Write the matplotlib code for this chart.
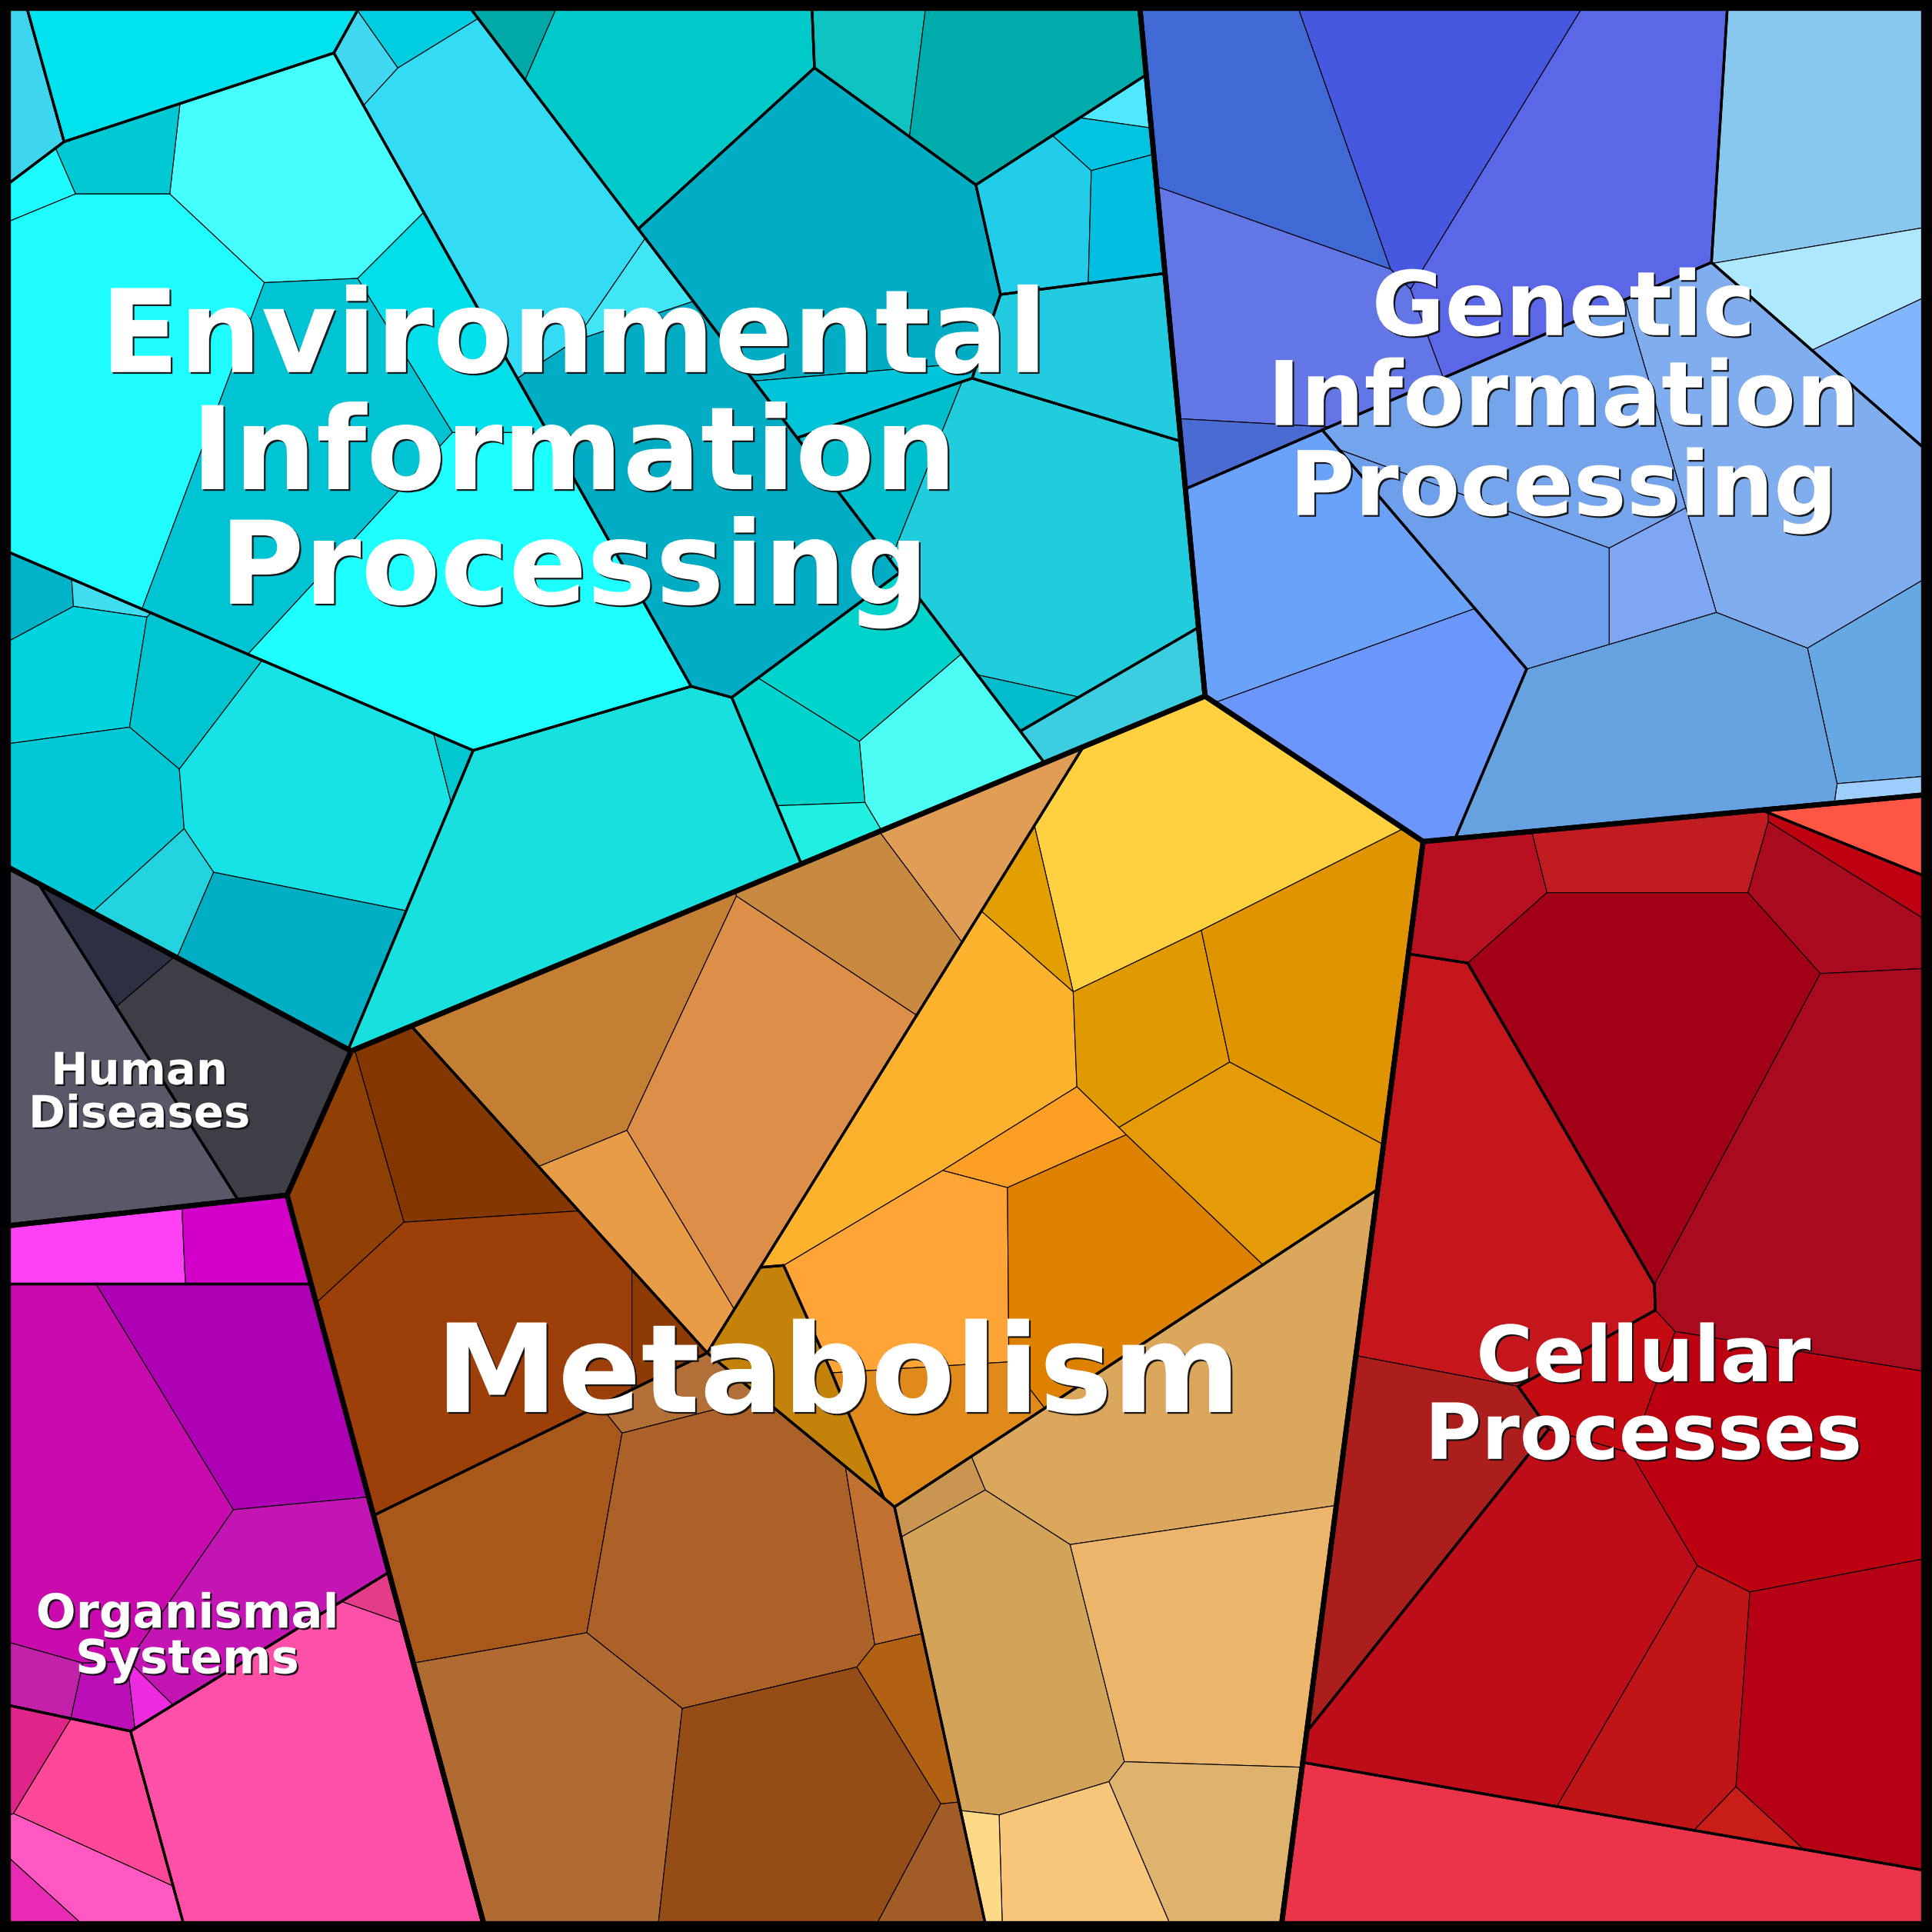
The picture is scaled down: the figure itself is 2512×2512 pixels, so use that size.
import numpy as np
import matplotlib
matplotlib.use('Agg')
import matplotlib.pyplot as plt
from matplotlib.patches import Polygon
from matplotlib.collections import LineCollection
import matplotlib.patheffects as pe

# top level: KEGG categories as power-diagram sites and weights
cat_names = ['Environmental\nInformation\nProcessing', 'Genetic\nInformation\nProcessing',
             'Metabolism', 'Cellular\nProcesses', 'Human\nDiseases', 'Organismal\nSystems']
top_x = [412.0, 1212.5, 700.0, 1291.3, 167.5, 208.0]
top_y = [407.0, 331.2, 1100.0, 1177.3, 863.3, 1232.8]
top_w = [181811, -53857, 200000, 81995, -19321, 34700]

# sub-groups: path -> (site x, site y, weight)
env_groups = {
    'L': (300, 400, 0), 'R': (666, 121.6, -67384),
    'L/0': (63.4, 103.1, 90840), 'L/1': (160, 76.25, 103737), 'L/2': (250, 350, 185000),
    'L/3': (449.9, 237.25, 160063), 'L/4': (155.1, 572.25, 153691), 'L/6': (656.4, 515.4, 37695),
    'L/7': (337.75, 648.5, 103642),
    'R/1a': (551, 89, -2430), 'R/1b': (789.5, 79.1, 1407), 'R/2': (680, 230, 15300),
    'R/3a': (860.8, 189.4, 2641), 'R/3b': (874.5, 295.8, 4928), 'R/4': (793.6, 563.7, 63407),
    'R/5': (874.6, 702.7, 75432),
}
gen_groups = {
    'a': (1142.75, 181.25, 55798), 'b': (1536.95, 205.85, 16091), 'c': (1280, 500, 88400),
    'c/X': (1085.25, 543.75, 97729.7), 'c/Y': (1230, 420, 89300), 'c/9': (1293.19, 631.55, 84870.8),
    'c/10': (1394.93, 371.96, 72459.4), 'c/11': (1519.28, 582.23, 49432),
    'c/15': (1526.18, 664.88, 47811.8),
}
met_groups = {'o': (560, 900, 23600), 'y': (805, 1052, 39677), 'd': (428, 1019.5, 11678),
              'b': (578.2, 1327.8, 37025), 't': (935.2, 1250.1, 48694)}
cel_groups = {'a': (1432, 798, -144276), 'm': (1330, 1050, 0), 'd': (1260.4, 1450.8, -177370)}
hum_groups = {'a': (60, 880, 0), 'b': (186, 800.5, 3560)}
org_groups = {'a': (150, 1100, 40900), 'b': (150, 1200, 62500), 'c': (214, 1304, 40404),
              'd': (122.6, 1329.1, 24572)}

# leaves: (site x, site y, size in 1000 px^2, colour, group path, outline tag, fixed weight or None)
N = None
env = [
    (22, 70, 4.5, '#3dd6ee', 'L/0', 'L/0', N), (140, 45, 18.2, '#00e2ed', 'L/1', 'L/1', N),
    (298, 48, 1.6, '#40d8f0', 'L/3', 'L/3', N), (335, 22, 2.2, '#00cde0', 'L/3', 'L/3', N),
    (240, 150, 25.9, '#45ffff', 'L/2', 'L/2', N), (90, 133, 5.1, '#00c9d4', 'L/2', 'L/2', N),
    (28, 160, 1.8, '#1cfcff', 'L/2', 'L/2', N), (90, 310, 51.0, '#1efcff', 'L/2', 'L/2', N),
    (250, 370, 41.8, '#00c3d4', 'L/2', 'L/2', N), (380, 290, 12.3, '#00dfea', 'L/2', 'L/2', N),
    (380, 490, 54.0, '#1effff', 'L/2', 'L/2', N), (420, 160, 27.0, '#33dcf4', 'L/3', 'L/3', N),
    (570, 390, 42.0, '#00acc4', 'L/3', 'L/3', N), (515, 225, 2.5, '#40e6f6', 'L/3', 'L/3', N),
    (25, 485, 2.5, '#00b3c9', 'L/4', 'L/4', N), (70, 482, 0.8, '#40dcf0', 'L/4', 'L/4', N),
    (60, 550, 10.0, '#00d3de', 'L/4', 'L/4', N), (155, 565, 7.5, '#00c4d0', 'L/4', 'L/4', N),
    (75, 660, 16.0, '#00c8d6', 'L/4', 'L/4', N), (260, 645, 30.6, '#17e2e5', 'L/4', 'L/4', N),
    (370, 617, 0.8, '#00c8d0', 'L/4', 'L/4', N), (137, 728, 5.0, '#22d3df', 'L/4', 'L/4', N),
    (235, 770, 15.3, '#00aec4', 'L/4', 'L/4', N), (470, 690, 53.6, '#18e0df', 'L/7', 'L/7', N),
    (710, 530, 10.4, '#00d3cc', 'L/6', 'L/6', N), (770, 600, 11.0, '#4bfdf2', 'L/6', 'L/6', N),
    (660, 610, 6.5, '#02d4cd', 'L/6', 'L/6', N), (662, 664, 2.5, '#1ff0e2', 'L/6', 'L/6', N),
    (425, 25, 2.0, '#00a8a8', 'R/1a', 'R/1a', N), (540, 75, 25.5, '#00c9c9', 'R/1a', 'R/1a', N),
    (700, 50, 6.5, '#10c3c3', 'R/1b', 'R/1b', N), (820, 65, 19.1, '#00abab', 'R/1b', 'R/1b', N),
    (690, 200, 47.9, '#00adc4', 'R/2', 'R/2', N), (700, 320, 5.2, '#00c4da', 'R/2', 'R/2', N),
    (735, 400, 8.0, '#00bfcc', 'R/4', 'R/4', N), (860, 450, 44.0, '#21ccdc', 'R/4', 'R/4', N),
    (832, 578, 1.5, '#00bccc', 'R/4', 'R/4', N), (905, 565, 8.0, '#3dcde0', 'R/5', 'R/5', N),
    (848, 178, 11.0, '#22cdea', 'R/3a', 'R/3a', N), (910, 80, 1.5, '#50e8fe', 'R/3a', 'R/3a', N),
    (905, 115, 2.8, '#00c4e2', 'R/3a', 'R/3a', N), (922, 180, 6.5, '#00bedf', 'R/3a', 'R/3a', N),
    (875, 280, 15.6, '#23cbe0', 'R/3b', 'R/3b', N),
]
gen = [
    (1012, 93, 26.5, '#4169d6', 'a', 'a', N), (1162, 40, 27.0, '#4758e0', 'a', 'a', N),
    (1290, 118, 46.8, '#5a67e6', 'a', 'a', N), (960, 240, 30.0, '#6276e6', 'a', 'a', N),
    (955, 330, 3.4, '#4a6bd2', 'a', 'a', N),
    (1080, 430, 29.9, '#6aa2fa', 'c/X', 'cX', N), (1131, 571, 24.3, '#6b97fc', 'c/X', 'cX', N),
    (1240, 330, 32.0, '#74a4ec', 'c/Y', 'c', N), (1216.6, 394.2, 15.5, '#6e9fec', 'c/Y', 'c', N),
    (1273.7, 394.2, 6.5, '#7ea6f5', 'c/Y', 'c', N), (1370, 590, 38.5, '#66a2df', 'c/9', 'c', N),
    (1450, 390, 46.6, '#80adee', 'c/10', 'c', N), (1522, 570, 11.3, '#66a8e4', 'c/11', 'c', N),
    (1527, 640, 1.0, '#9ccdfc', 'c/15', 'c', N),
    (1478, 100, 32.0, '#88c8ee', 'b', 'b', N), (1500, 230, 9.8, '#aee8fe', 'b', 'b', N),
    (1531, 296, 5.6, '#82b6fc', 'b', 'b', N),
]
met = [
    (900.0, 700.0, 38.1, '#ffd040', 'y', 'y', 0.0),
    (833.5, 715.5, 4.1, '#e39e00', 'y', 'y', -2449.5),
    (695.4, 872.7, 27.9, '#fdb22e', 'y', 'y', 23552.7),
    (977.74, 861.7, 13.4, '#e19900', 'y', 'y', 2742.3),
    (981.0, 861.0, 27.2, '#e09500', 'y', 'y', 2622.0),
    (979.25, 864.26, 19.5, '#e59a08', 'y', 'y', 2688.7),
    (801.7, 1043.09, 5.2, '#fe9f25', 'y', 'y', 22745.2),
    (800.29, 1048.42, 22.8, '#ffa437', 'y', 'y', 23665.2),
    (804.06, 1048.39, 26.0, '#de8000', 'y', 'y', 23543.3),
    (800.46, 1051.17, 11.2, '#e08a1c', 'y', 'y', 23353.6),
    (713.29, 1087.42, 10.3, '#c5820a', 'y', 'g', 5839.5),
    (960, 1150, 47.9, '#dba75c', 't', 't', N), (755, 1235, 2.0, '#c99550', 't', 't', N),
    (825, 1360, 31.6, '#d4a35a', 't', 't', N), (985, 1320, 34.8, '#ebb66c', 't', 't', N),
    (980, 1480, 16.2, '#ddb36d', 't', 't', N), (875, 1525, 11.8, '#f8c67b', 't', 't', N),
    (806, 1527, 2.0, '#ffda86', 't', 't', N),
    (470, 830, 25.9, '#c47f35', 'o', 'o', N), (624, 902, 38.4, '#dd8f49', 'o', 'o', N),
    (708, 775, 13.0, '#c78a40', 'o', 'o', N), (787, 716, 9.5, '#e09d55', 'o', 'o', N),
    (524, 962, 10.3, '#e99c48', 'o', 'o', N), (390, 935, 15.0, '#843700', 'd', 'd', N),
    (285, 965, 10.3, '#903f05', 'd', 'd', N), (400, 1090, 44.3, '#9c3f08', 'd', 'd', N),
    (530, 1090, 3.0, '#8e3a04', 'd', 'd', N), (425, 1250, 26.7, '#a9581c', 'b', 'b', N),
    (560, 1142, 4.0, '#b26f37', 'b', 'b', N), (595, 1280, 43.2, '#ac6128', 'b', 'b', N),
    (716, 1260, 4.5, '#c27133', 'b', 'b', N), (749, 1403, 5.1, '#b26112', 'b', 'b', N),
    (460, 1450, 39.2, '#b06b32', 'b', 'b', N), (640, 1470, 36.3, '#954c17', 'b', 'b', N),
    (762, 1535, 5.0, '#a15c28', 'b', 'b', N),
]
cel = [
    (1520, 673, 4.0, '#ff5544', 'a', 'a', N), (1220, 735, 8.8, '#b81020', 'm', 'm1', N),
    (1340, 705, 10.6, '#c11d20', 'm', 'm1', N), (1505, 705, 2.7, '#bf0010', 'm', 'm1', N),
    (1480, 745, 10.2, '#a90a1e', 'm', 'm1', N), (1340, 870, 51.3, '#a10016', 'm', 'm1', N),
    (1490, 950, 50.8, '#aa0a1e', 'm', 'm1', N), (1185, 960, 52.8, '#c5171b', 'm', 'm2', N),
    (1130, 1250, 27.5, '#ac1e1b', 'm', 'm2', N), (1285, 1140, 8.0, '#c50b12', 'm', 'm1', N),
    (1450, 1200, 40.0, '#bc0011', 'm', 'm1', N), (1230, 1330, 55.0, '#be0c18', 'm', 'm1', N),
    (1350, 1400, 19.4, '#c11416', 'm', 'm1', N), (1490, 1410, 33.0, '#b50016', 'm', 'm1', N),
    (1429, 1476, 1.9, '#c91e18', 'm', 'm1', N), (1250, 1515, 45.0, '#eb3449', 'd', 'd', N),
]
hum = [(60, 880, 28.7, '#5a5868', 'a', 'a', N), (100, 775, 3.5, '#2d3040', 'b', 'b', N),
       (190, 880, 19.2, '#3e3f46', 'b', 'b', N)]
org = [
    (70, 1018, 6.8, '#ff40f5', 'a', 'a', N), (200, 1012, 5.5, '#d200c8', 'a', 'a', N),
    (85, 1195, 39.2, '#c80aae', 'b', 'b', N), (200, 1125, 25.0, '#ad00b4', 'b', 'b', N),
    (215, 1285, 17.9, '#c215b4', 'b', 'b', N), (37, 1366, 2.7, '#c122a9', 'b', 'b', N),
    (92, 1378, 2.2, '#bc0eb8', 'b', 'b', N), (127, 1374, 0.9, '#ee2ae0', 'b', 'b', N),
    (308, 1300, 0.9, '#e33d8a', 'c', 'c', N), (255, 1450, 51.5, '#ff50a8', 'c', 'c', N),
    (24, 1418, 2.2, '#e0248a', 'd', 'd', N), (85, 1455, 8.2, '#ff4898', 'd', 'd', N),
    (60, 1510, 6.0, '#ff58c0', 'd', 'd', N), (30, 1543, 1.5, '#e82ab4', 'd', 'd', N),
]
leaves = [env, gen, met, cel, hum, org]
groups = [env_groups, gen_groups, met_groups, cel_groups, hum_groups, org_groups]


def clip(poly, a, b):
    out = []
    n = len(poly)
    for k in range(n):
        p, q = poly[k], poly[(k + 1) % n]
        fp = a[0] * p[0] + a[1] * p[1] - b
        fq = a[0] * q[0] + a[1] * q[1] - b
        if fp <= 0:
            out.append(p)
        if (fp < 0 < fq) or (fq < 0 < fp):
            t = fp / (fp - fq)
            out.append((p[0] + t * (q[0] - p[0]), p[1] + t * (q[1] - p[1])))
    return out


def power_cells(pts, w, box):
    cells = []
    for i in range(len(pts)):
        poly = list(box)
        for j in range(len(pts)):
            if i == j or len(poly) < 3:
                continue
            a = 2 * (pts[j] - pts[i])
            b = pts[j] @ pts[j] - pts[i] @ pts[i] - w[j] + w[i]
            poly = clip(poly, a, b)
        cells.append(poly)
    return cells


def area(poly):
    if len(poly) < 3:
        return 0.0
    p = np.array(poly)
    return 0.5 * abs(np.dot(p[:, 0], np.roll(p[:, 1], -1)) - np.dot(p[:, 1], np.roll(p[:, 0], -1)))


def argmin_power(pt, pts, w):
    return int(np.argmin(((pts - pt) ** 2).sum(1) - w))


def parent(path):
    return path.rsplit('/', 1)[0] if '/' in path else ''


def kids(grp, prefix):
    return [p for p in grp if parent(p) == prefix]


lo, hi = 6.0, 1562.0
frame = [(lo, lo), (hi, lo), (hi, hi), (lo, hi)]
tpts = np.column_stack([top_x, top_y]).astype(float)
tw = np.array(top_w, float)
top_cells = power_cells(tpts, tw, frame)

# nested group cells
region = {}
for k, grp in enumerate(groups):
    region[(k, '')] = top_cells[k]
    todo = ['']
    while todo:
        pre = todo.pop()
        ks = kids(grp, pre)
        if not ks:
            continue
        gp = np.array([[grp[c][0], grp[c][1]] for c in ks], float)
        gw = np.array([grp[c][2] for c in ks], float)
        for c, poly in zip(ks, power_cells(gp, gw, region[(k, pre)])):
            region[(k, c)] = poly
            todo.append(c)

# leaf cells: fixed weights where given, otherwise adjusted until areas follow sizes
leaf_sets = {}
for k, cells_k in enumerate(leaves):
    for path in sorted(set(c[4] for c in cells_k)):
        idx = [i for i, c in enumerate(cells_k) if c[4] == path]
        pts = np.array([[cells_k[i][0], cells_k[i][1]] for i in idx], float)
        box = region[(k, path)]
        if all(cells_k[i][6] is not None for i in idx):
            w = np.array([cells_k[i][6] for i in idx], float)
        else:
            size = np.array([cells_k[i][2] for i in idx], float)
            target = size / size.sum() * area(box)
            w = target / np.pi
            for it in range(50):
                got = np.array([area(p) for p in power_cells(pts, w, box)])
                w = w + 0.5 * (target - got)
        leaf_sets[(k, path)] = (idx, pts, w, power_cells(pts, w, box))


def locate(pt, k):
    grp = groups[k]
    pre = ''
    while True:
        ks = kids(grp, pre)
        if not ks:
            break
        gp = np.array([[grp[c][0], grp[c][1]] for c in ks], float)
        gw = np.array([grp[c][2] for c in ks], float)
        pre = ks[argmin_power(pt, gp, gw)]
    idx, pts, w, _ = leaf_sets[(k, pre)]
    return idx[argmin_power(pt, pts, w)]


fig = plt.figure(figsize=(25.12, 25.12), dpi=100, facecolor='black')
ax = fig.add_axes([0, 0, 1, 1])
ax.set_xlim(0, 1568)
ax.set_ylim(1568, 0)
ax.axis('off')

medium = []
for (k, path), (idx, pts, w, polys) in leaf_sets.items():
    cells_k = leaves[k]
    for i, poly in zip(idx, polys):
        if len(poly) < 3:
            continue
        ax.add_patch(Polygon(poly, closed=True, facecolor=cells_k[i][3], edgecolor='black',
                             lw=0.8, joinstyle='round'))
        P = np.array(poly)
        cen = P.mean(0)
        for e in range(len(P)):
            p, q = P[e], P[(e + 1) % len(P)]
            d = q - p
            L = np.hypot(*d)
            if L < 0.5:
                continue
            n = np.array([d[1], -d[0]]) / L
            m = (p + q) / 2
            if np.dot(n, m - cen) < 0:
                n = -n
            probe = m + 2.0 * n
            if not (lo < probe[0] < hi and lo < probe[1] < hi):
                continue
            if argmin_power(probe, tpts, tw) != k:
                continue
            j = locate(probe, k)
            if cells_k[j][5] != cells_k[i][5]:
                medium.append([p, q])

ax.add_collection(LineCollection(medium, colors='black', linewidths=2.4, capstyle='round'))
for poly in top_cells:
    ax.add_patch(Polygon(poly, closed=True, fill=False, edgecolor='black', lw=4.8, joinstyle='round'))
ax.add_patch(Polygon(frame, closed=True, fill=False, edgecolor='black', lw=6))

shadow = [pe.SimplePatchShadow(offset=(1.6, -1.6), shadow_rgbFace='#111111', alpha=0.95), pe.Normal()]
labels = [
    (cat_names[0], 466, [302, 397, 490], 108),
    (cat_names[1], 1269, [272, 345, 418], 83.5),
    (cat_names[2], 680, [1146], 115),
    (cat_names[3], 1334, [1121, 1184], 72.5),
    (cat_names[4], 113, [880, 915], 41.6),
    (cat_names[5], 152, [1321, 1358], 44),
]
for name, x, bases, fs in labels:
    for line, yb in zip(name.split('\n'), bases):
        ax.text(x, yb, line, ha='center', va='baseline', fontsize=fs, fontweight='bold',
                color='white', family='DejaVu Sans', path_effects=shadow)

fig.savefig('out.png', dpi=100, facecolor='black')
